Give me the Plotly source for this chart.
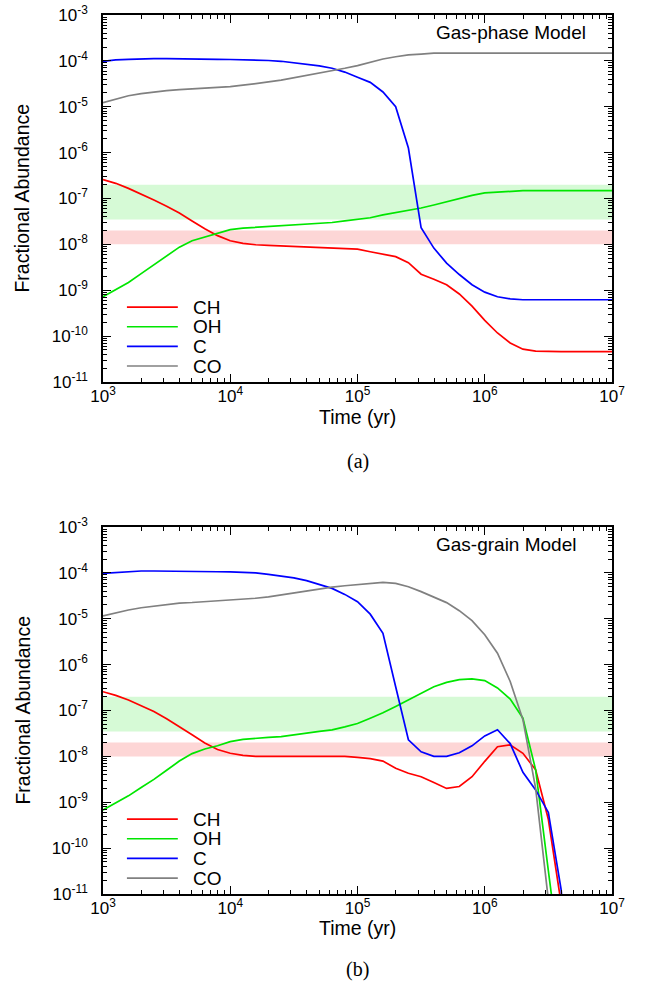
import plotly.graph_objects as go

# time grid (yr)
time_yr = [1.0e3, 1.259e3, 1.585e3, 1.995e3, 2.512e3, 3.162e3, 3.981e3, 5.012e3, 6.310e3, 7.943e3,
           1.0e4, 1.259e4, 1.585e4, 1.995e4, 2.512e4, 3.162e4, 3.981e4, 5.012e4, 6.310e4, 7.943e4,
           1.0e5, 1.259e5, 1.585e5, 1.995e5, 2.512e5, 3.162e5, 3.981e5, 5.012e5, 6.310e5, 7.943e5,
           1.0e6, 1.259e6, 1.585e6, 1.995e6, 2.512e6, 3.162e6, 3.981e6, 5.012e6, 6.310e6, 1.0e7]

# (a) gas-phase model
gas_ch = [2.57e-7, 2.14e-7, 1.66e-7, 1.26e-7, 9.3e-8, 6.8e-8, 4.8e-8, 3.24e-8, 2.19e-8, 1.55e-8,
          1.2e-8, 1.05e-8, 9.8e-9, 9.55e-9, 9.3e-9, 9.1e-9, 8.9e-9, 8.7e-9, 8.3e-9, 8.1e-9,
          7.9e-9, 6.9e-9, 6.2e-9, 5.4e-9, 4.0e-9, 2.24e-9, 1.74e-9, 1.32e-9, 8.3e-10, 4.5e-10,
          2.2e-10, 1.17e-10, 7.1e-11, 5.2e-11, 4.7e-11, 4.6e-11, 4.6e-11, 4.6e-11, 4.6e-11, 4.6e-11]
gas_oh = [7.2e-10, 1.02e-9, 1.48e-9, 2.3e-9, 3.55e-9, 5.5e-9, 8.7e-9, 1.2e-8, 1.45e-8, 1.7e-8,
          2.1e-8, 2.26e-8, 2.35e-8, 2.43e-8, 2.5e-8, 2.63e-8, 2.75e-8, 2.88e-8, 3.0e-8, 3.25e-8,
          3.55e-8, 3.8e-8, 4.4e-8, 4.9e-8, 5.5e-8, 6.2e-8, 7.2e-8, 8.5e-8, 1.02e-7, 1.17e-7,
          1.32e-7, 1.38e-7, 1.45e-7, 1.48e-7, 1.48e-7, 1.48e-7, 1.48e-7, 1.48e-7, 1.48e-7, 1.48e-7]
gas_c = [9.8e-5, 1.05e-4, 1.08e-4, 1.11e-4, 1.12e-4, 1.12e-4, 1.12e-4, 1.11e-4, 1.1e-4, 1.08e-4,
         1.07e-4, 1.06e-4, 1.05e-4, 1.02e-4, 9.8e-5, 9.1e-5, 8.5e-5, 7.8e-5, 6.9e-5, 5.7e-5,
         4.4e-5, 3.4e-5, 2.1e-5, 1.0e-5, 1.26e-6, 2.3e-8, 8.3e-9, 3.9e-9, 2.2e-9, 1.32e-9,
         9.1e-10, 7.2e-10, 6.5e-10, 6.2e-10, 6.2e-10, 6.2e-10, 6.2e-10, 6.2e-10, 6.2e-10, 6.2e-10]
gas_co = [1.23e-5, 1.48e-5, 1.74e-5, 1.93e-5, 2.1e-5, 2.24e-5, 2.35e-5, 2.43e-5, 2.5e-5, 2.63e-5,
          2.75e-5, 2.95e-5, 3.16e-5, 3.47e-5, 3.8e-5, 4.27e-5, 4.9e-5, 5.5e-5, 6.0e-5, 6.9e-5,
          7.9e-5, 9.5e-5, 1.1e-4, 1.23e-4, 1.35e-4, 1.41e-4, 1.48e-4, 1.48e-4, 1.48e-4, 1.48e-4,
          1.48e-4, 1.48e-4, 1.48e-4, 1.48e-4, 1.48e-4, 1.48e-4, 1.48e-4, 1.48e-4, 1.48e-4, 1.48e-4]

# (b) gas-grain model
grain_ch = [2.57e-7, 2.14e-7, 1.7e-7, 1.29e-7, 9.5e-8, 6.6e-8, 4.5e-8, 2.95e-8, 1.95e-8, 1.41e-8,
            1.17e-8, 1.05e-8, 1.0e-8, 1.0e-8, 1.0e-8, 1.0e-8, 1.0e-8, 1.0e-8, 1.0e-8, 1.0e-8,
            9.5e-9, 8.9e-9, 7.9e-9, 5.5e-9, 4.3e-9, 3.6e-9, 2.7e-9, 2.0e-9, 2.2e-9, 3.6e-9,
            7.8e-9, 1.62e-8, 1.78e-8, 1.17e-8, 5.1e-9, 4.2e-10, 6.3e-12, 1e-14, 1e-16, 1e-20]
grain_oh = [6.8e-10, 9.5e-10, 1.38e-9, 2.1e-9, 3.15e-9, 5.0e-9, 7.9e-9, 1.15e-8, 1.45e-8, 1.7e-8,
            2.1e-8, 2.35e-8, 2.5e-8, 2.6e-8, 2.7e-8, 2.9e-8, 3.2e-8, 3.5e-8, 3.8e-8, 4.4e-8,
            5.2e-8, 6.8e-8, 8.9e-8, 1.23e-7, 1.7e-7, 2.45e-7, 3.3e-7, 4.1e-7, 4.7e-7, 4.9e-7,
            4.5e-7, 3.1e-7, 1.78e-7, 6.8e-8, 5.1e-9, 3.2e-11, 1e-13, 1e-15, 1e-17, 1e-20]
grain_c = [9.8e-5, 1.03e-4, 1.07e-4, 1.1e-4, 1.1e-4, 1.1e-4, 1.1e-4, 1.08e-4, 1.07e-4, 1.06e-4,
           1.05e-4, 1.02e-4, 1.0e-4, 9.3e-5, 8.5e-5, 7.8e-5, 6.8e-5, 5.6e-5, 4.6e-5, 3.4e-5,
           2.35e-5, 1.26e-5, 4.8e-6, 3.3e-7, 2.3e-8, 1.26e-8, 1.0e-8, 1.0e-8, 1.2e-8, 1.7e-8,
           2.8e-8, 3.8e-8, 1.9e-8, 4.5e-9, 1.86e-9, 6.0e-10, 1.26e-11, 1e-14, 1e-16, 1e-20]
grain_co = [1.15e-5, 1.35e-5, 1.55e-5, 1.74e-5, 1.9e-5, 2.04e-5, 2.2e-5, 2.26e-5, 2.35e-5, 2.45e-5,
            2.55e-5, 2.7e-5, 2.8e-5, 3.0e-5, 3.3e-5, 3.6e-5, 4.1e-5, 4.5e-5, 4.9e-5, 5.25e-5,
            5.5e-5, 5.9e-5, 6.2e-5, 5.9e-5, 5.0e-5, 3.9e-5, 3.0e-5, 2.25e-5, 1.5e-5, 9.1e-6,
            4.5e-6, 1.78e-6, 4.3e-7, 6.3e-8, 2.0e-9, 3.2e-12, 1e-14, 1e-16, 1e-18, 1e-20]

# observed ranges (shaded bands)
oh_band = [3.5e-8, 2.0e-7]
ch_band = [1.0e-8, 2.0e-8]

species = ["CH", "OH", "C", "CO"]
colors = ["#ff0000", "#00e600", "#0000ff", "#808080"]

x_tickvals = [1e3, 1e4, 1e5, 1e6, 1e7]
x_ticktext = ["10<sup>3</sup>", "10<sup>4</sup>", "10<sup>5</sup>", "10<sup>6</sup>", "10<sup>7</sup>"]
y_tickvals = [1e-11, 1e-10, 1e-9, 1e-8, 1e-7, 1e-6, 1e-5, 1e-4, 1e-3]
y_ticktext = ["10<sup>-11</sup>", "10<sup>-10</sup>", "10<sup>-9</sup>", "10<sup>-8</sup>",
              "10<sup>-7</sup>", "10<sup>-6</sup>", "10<sup>-5</sup>", "10<sup>-4</sup>", "10<sup>-3</sup>"]

FONT = "Liberation Sans, Arial, Helvetica, sans-serif"
SERIF = "Liberation Serif, Times New Roman, serif"

panels = [
    dict(series=[gas_ch, gas_oh, gas_c, gas_co], title="Gas-phase Model", tx=0.953,
         label="(a)", time_y=-0.095, label_y=-0.218),
    dict(series=[grain_ch, grain_oh, grain_c, grain_co], title="Gas-grain Model", tx=0.933,
         label="(b)", time_y=-0.094, label_y=-0.207),
]

fig = go.Figure()
annotations = []
shapes = []

for i, p in enumerate(panels):
    sfx = "" if i == 0 else str(i + 1)
    xa, ya = "x" + sfx, "y" + sfx

    # observed bands as filled areas spanning the time range
    for band, col in [(oh_band, "#d6fad6"), (ch_band, "#fdd6d6")]:
        t0, t1 = time_yr[0], time_yr[-1]
        fig.add_trace(go.Scatter(x=[t0, t1, t1, t0], y=[band[0], band[0], band[1], band[1]],
                                 mode="lines", fill="toself", fillcolor=col,
                                 line=dict(width=0, color=col), hoverinfo="skip",
                                 xaxis=xa, yaxis=ya, showlegend=False))

    for name, vals, col in zip(species, p["series"], colors):
        fig.add_trace(go.Scatter(x=time_yr, y=vals, mode="lines", name=name,
                                 line=dict(color=col, width=1.7),
                                 xaxis=xa, yaxis=ya, showlegend=False))

    # key drawn inside the panel
    for k, (name, col) in enumerate(zip(species, colors)):
        yy = 0.204 - k * 0.0535
        shapes.append(dict(type="line", xref=xa + " domain", yref=ya + " domain",
                           x0=0.047, x1=0.147, y0=yy, y1=yy,
                           line=dict(color=col, width=1.7)))
        annotations.append(dict(text=name, xref=xa + " domain", yref=ya + " domain",
                                x=0.172, y=yy, xanchor="left", yanchor="middle",
                                showarrow=False, font=dict(size=19, color="black", family=FONT)))

    annotations.append(dict(text=p["title"], xref=xa + " domain", yref=ya + " domain",
                            x=p["tx"], y=0.951, xanchor="right", yanchor="middle",
                            showarrow=False, font=dict(size=19, color="black", family=FONT)))
    annotations.append(dict(text="Fractional Abundance", xref="paper", yref=ya + " domain",
                            x=-0.159, y=0.5, xanchor="center", yanchor="middle", textangle=-90,
                            showarrow=False, font=dict(size=19.5, color="black", family=FONT)))
    annotations.append(dict(text="Time (yr)", xref=xa + " domain", yref=ya + " domain",
                            x=0.5, y=p["time_y"], xanchor="center", yanchor="middle",
                            showarrow=False, font=dict(size=19.5, color="black", family=FONT)))
    annotations.append(dict(text=p["label"], xref=xa + " domain", yref=ya + " domain",
                            x=0.5, y=p["label_y"], xanchor="center", yanchor="middle",
                            showarrow=False, font=dict(size=20, color="black", family=SERIF)))

axis_common = dict(type="log", showline=True, linecolor="black", linewidth=1.5, mirror="allticks",
                   ticks="inside", ticklen=8, tickwidth=1, tickcolor="black",
                   showgrid=False, zeroline=False, tickmode="array", automargin=False,
                   tickfont=dict(size=17, color="black", family=FONT),
                   minor=dict(ticks="inside", ticklen=4, tickwidth=1, tickcolor="black",
                              dtick="D1", showgrid=False))

fig.update_layout(
    width=646, height=990,
    margin=dict(l=103, r=34, t=15, b=96),
    paper_bgcolor="white", plot_bgcolor="white",
    font=dict(family=FONT, color="black"),
    showlegend=False,
    xaxis=dict(axis_common, domain=[0, 1], anchor="y", range=[3, 7],
               tickvals=x_tickvals, ticktext=x_ticktext, ticklabelstandoff=-2),
    yaxis=dict(axis_common, domain=[0.5825, 1], anchor="x", range=[-11, -3],
               tickvals=y_tickvals, ticktext=y_ticktext, ticklabelstandoff=10),
    xaxis2=dict(axis_common, domain=[0, 1], anchor="y2", range=[3, 7],
                tickvals=x_tickvals, ticktext=x_ticktext, ticklabelstandoff=-2),
    yaxis2=dict(axis_common, domain=[0, 0.4175], anchor="x2", range=[-11, -3],
                tickvals=y_tickvals, ticktext=y_ticktext, ticklabelstandoff=10),
    shapes=shapes,
    annotations=annotations,
)

# drop the default page margin so the figure sits at the window's corner
fig.write_html("out.html", config={"displayModeBar": False},
               post_script="document.body.style.margin = '0';")
